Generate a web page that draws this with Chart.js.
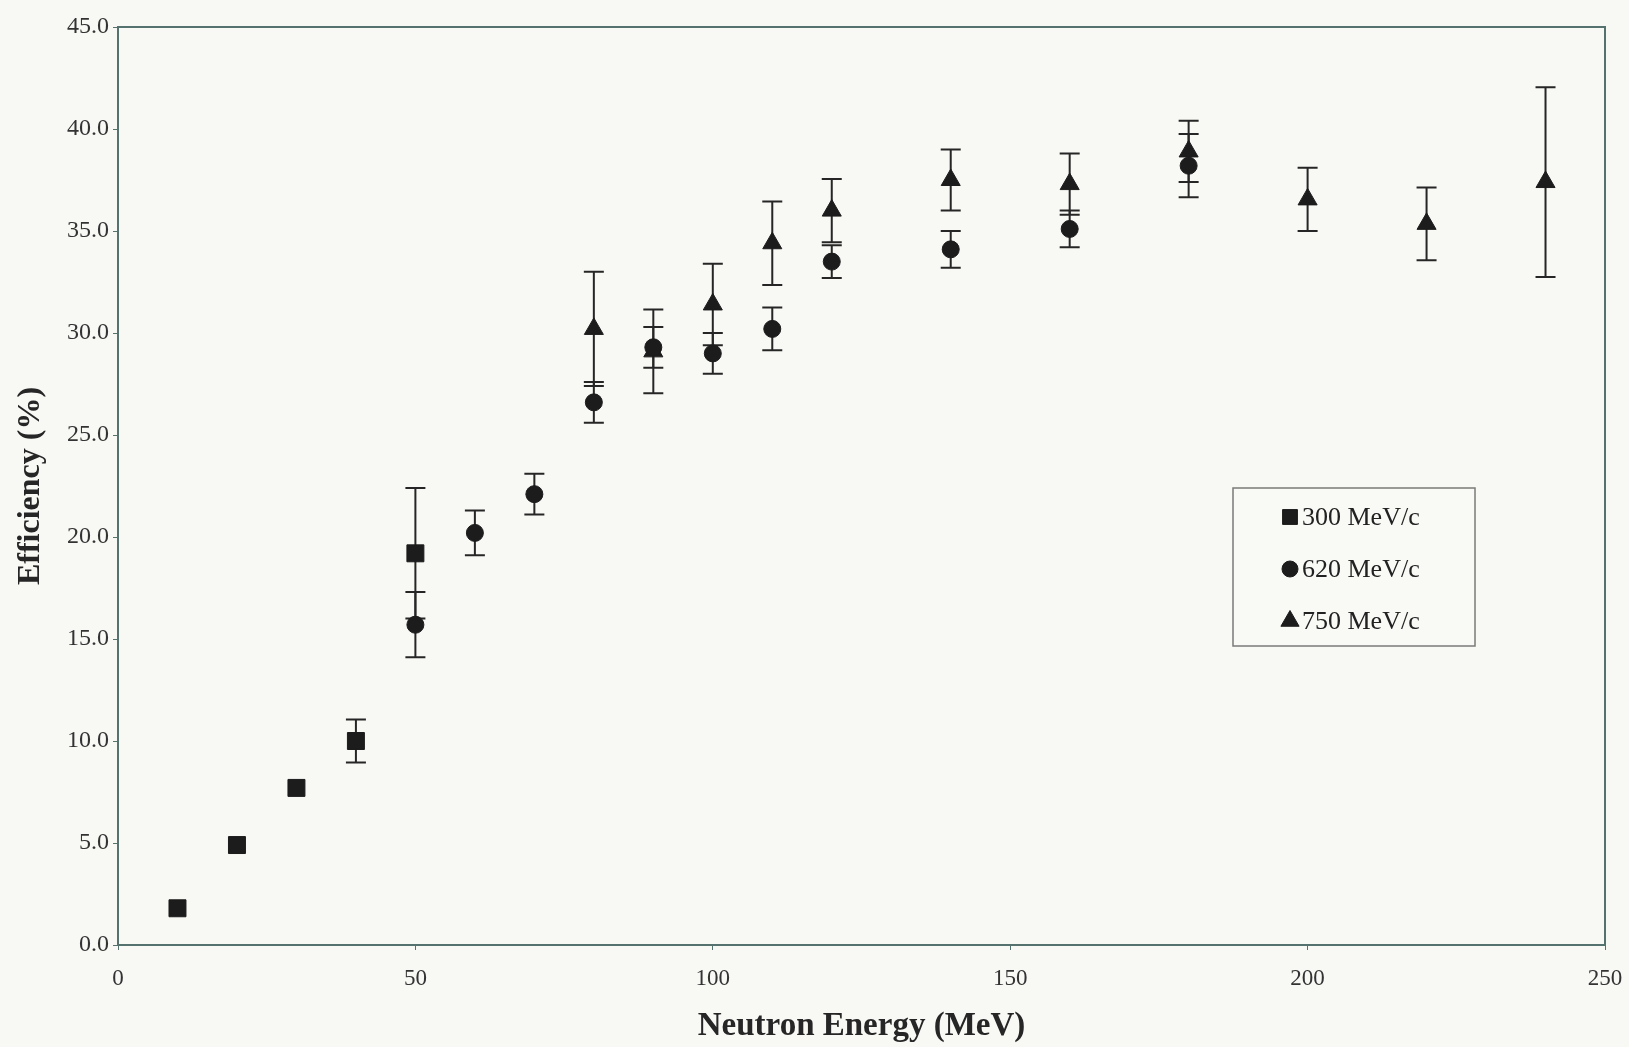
<!DOCTYPE html>
<html>
<head>
<meta charset="utf-8">
<script src="https://cdn.jsdelivr.net/npm/chart.js@4.4.0/dist/chart.umd.min.js"></script>
<style>
  html, body { margin: 0; padding: 0; background: #f8f8f5; }
  canvas { display: block; }
</style>
</head>
<body>
<canvas id="chart" width="1629" height="1047" style="width:1629px;height:1047px"></canvas>
<script>
// Neutron detection efficiency vs. neutron energy, three beam momenta
const seriesLabels = ['300 MeV/c', '620 MeV/c', '750 MeV/c'];

const energy300 = [10, 20, 30, 40, 50];
const eff300    = [1.8, 4.9, 7.7, 10.0, 19.2];
const err300    = [0, 0, 0, 1.05, 3.2];

const energy620 = [50, 60, 70, 80, 90, 100, 110, 120, 140, 160, 180];
const eff620    = [15.7, 20.2, 22.1, 26.6, 29.3, 29.0, 30.2, 33.5, 34.1, 35.1, 38.2];
const err620    = [1.6, 1.1, 1.0, 1.0, 1.0, 1.0, 1.05, 0.8, 0.9, 0.9, 1.55];

const energy750 = [80, 90, 100, 110, 120, 140, 160, 180, 200, 220, 240];
const eff750    = [30.2, 29.1, 31.4, 34.4, 36.0, 37.5, 37.3, 38.9, 36.55, 35.35, 37.4];
const err750    = [2.8, 2.05, 2.0, 2.05, 1.55, 1.5, 1.5, 1.5, 1.55, 1.78, 4.65];

const xTicks = [0, 50, 100, 150, 200, 250];
const yTicks = [0, 5, 10, 15, 20, 25, 30, 35, 40, 45];

const SERIF = "'Liberation Serif', 'DejaVu Serif', serif";
const INK = '#1c1c1c';
const FRAME = '#56726f';

function points(xs, ys, errs) {
  return xs.map((x, i) => ({ x: x, y: ys[i], err: errs[i] }));
}

const styles = [
  { pointStyle: 'rect', radius: 12 },
  { pointStyle: 'circle', radius: 8.5 },
  { pointStyle: 'triangle', radius: 11 }
];

const datasets = [
  points(energy300, eff300, err300),
  points(energy620, eff620, err620),
  points(energy750, eff750, err750)
].map((data, i) => ({
  label: seriesLabels[i],
  data: data,
  showLine: false,
  pointStyle: styles[i].pointStyle,
  pointRadius: styles[i].radius,
  pointHoverRadius: styles[i].radius,
  backgroundColor: INK,
  borderColor: INK,
  borderWidth: 1
}));

// Vertical error bars with caps, drawn under the markers
const errorBars = {
  id: 'errorBars',
  beforeDatasetsDraw(chart) {
    const ctx = chart.ctx;
    const xs = chart.scales.x, ys = chart.scales.y;
    ctx.save();
    ctx.strokeStyle = '#262626';
    ctx.lineWidth = 2;
    chart.data.datasets.forEach(ds => {
      ds.data.forEach(p => {
        if (!p.err) return;
        const px = xs.getPixelForValue(p.x);
        const top = ys.getPixelForValue(p.y + p.err);
        const bot = ys.getPixelForValue(p.y - p.err);
        const cap = 10;
        ctx.beginPath();
        ctx.moveTo(px, top); ctx.lineTo(px, bot);
        ctx.moveTo(px - cap, top); ctx.lineTo(px + cap, top);
        ctx.moveTo(px - cap, bot); ctx.lineTo(px + cap, bot);
        ctx.stroke();
      });
    });
    ctx.restore();
  }
};

// Plot frame on all four sides
const frame = {
  id: 'frame',
  afterDraw(chart) {
    const a = chart.chartArea, ctx = chart.ctx;
    ctx.save();
    ctx.strokeStyle = FRAME;
    ctx.lineWidth = 2;
    ctx.strokeRect(a.left, a.top, a.right - a.left, a.bottom - a.top);
    ctx.restore();
  }
};

// Boxed legend inside the plot area
const boxLegend = {
  id: 'boxLegend',
  afterDraw(chart) {
    const ctx = chart.ctx;
    const bx = 1233, by = 488, bw = 242, bh = 158;
    ctx.save();
    ctx.fillStyle = '#f9f9f6';
    ctx.fillRect(bx, by, bw, bh);
    ctx.strokeStyle = '#7a7a7a';
    ctx.lineWidth = 1.5;
    ctx.strokeRect(bx, by, bw, bh);
    ctx.font = '26px ' + SERIF;
    ctx.textBaseline = 'middle';
    ctx.textAlign = 'left';
    chart.data.datasets.forEach((ds, i) => {
      const cy = by + 29 + i * 52;
      ctx.fillStyle = INK;
      ctx.strokeStyle = INK;
      ctx.lineWidth = 1;
      Chart.helpers.drawPoint(ctx, {
        pointStyle: ds.pointStyle,
        radius: ds.pointStyle === 'circle' ? 8 : 10.5,
        borderWidth: 1,
        rotation: 0
      }, 1290, cy);
      ctx.fillStyle = '#222';
      ctx.fillText(ds.label, 1302, cy + 1);
    });
    ctx.restore();
  }
};

new Chart(document.getElementById('chart'), {
  type: 'scatter',
  data: { datasets: datasets },
  plugins: [errorBars, frame, boxLegend],
  options: {
    responsive: false,
    animation: false,
    layout: { padding: { left: 0, top: 27, right: 24, bottom: 0 } },
    plugins: {
      legend: { display: false },
      tooltip: { enabled: false }
    },
    scales: {
      x: {
        type: 'linear',
        min: xTicks[0],
        max: xTicks[xTicks.length - 1],
        afterBuildTicks(scale) { scale.ticks = xTicks.map(v => ({ value: v })); },
        afterFit(scale) {
          scale.height = 102;
          scale.paddingLeft = 0;
          scale.paddingRight = 0;
        },
        border: { display: false },
        grid: { display: true, drawOnChartArea: false, drawTicks: true, tickLength: 5, color: FRAME },
        ticks: {
          padding: 15,
          color: '#333',
          font: { family: SERIF, size: 23 },
          callback: v => String(v)
        },
        title: {
          display: true,
          text: 'Neutron Energy (MeV)',
          color: '#262626',
          font: { family: SERIF, size: 33, weight: 'bold' },
          padding: { top: 0, bottom: 1 }
        }
      },
      y: {
        type: 'linear',
        min: yTicks[0],
        max: yTicks[yTicks.length - 1],
        afterBuildTicks(scale) { scale.ticks = yTicks.map(v => ({ value: v })); },
        afterFit(scale) {
          scale.width = 118;
          scale.paddingTop = 0;
          scale.paddingBottom = 0;
        },
        border: { display: false },
        grid: { display: true, drawOnChartArea: false, drawTicks: true, tickLength: 5, color: FRAME },
        ticks: {
          padding: 4,
          color: '#333',
          font: { family: SERIF, size: 24 },
          callback: v => v.toFixed(1)
        },
        title: {
          display: true,
          text: 'Efficiency (%)',
          color: '#262626',
          font: { family: SERIF, size: 32, weight: 'bold' },
          padding: { top: 12, bottom: 0 }
        }
      }
    }
  }
});
</script>
</body>
</html>
